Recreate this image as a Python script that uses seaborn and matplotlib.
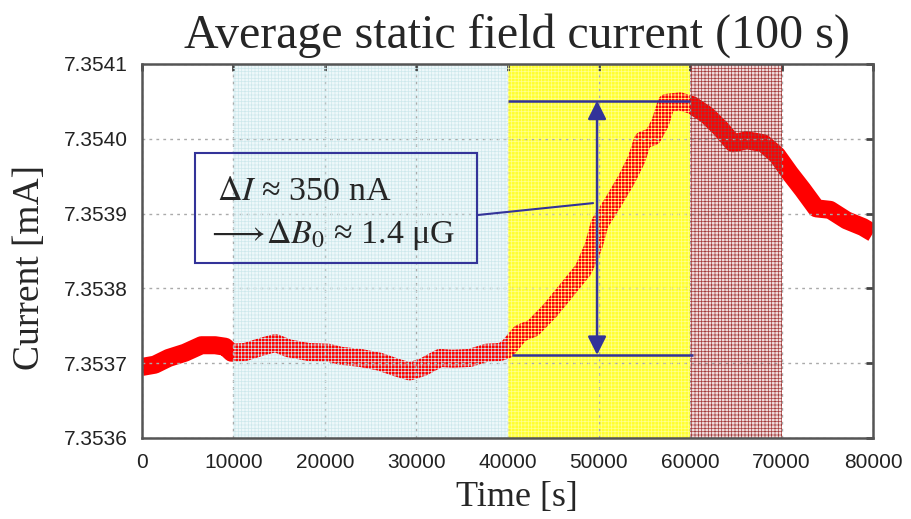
import matplotlib
matplotlib.use("Agg")
import matplotlib.pyplot as plt
import matplotlib.patches as mpatches
from matplotlib.ticker import FormatStrFormatter
import seaborn as sns
import pandas as pd

# Data (time in s, current in mA)
time_s = [0, 1400, 2900, 4700, 6500, 8000, 9100, 9800, 11300, 13100, 14600,
          16000, 18200, 20400, 21700, 23900, 26000, 27900, 29300, 30800,
          32600, 34000, 35900, 37700, 39200, 39900, 40300, 41400, 42800,
          44700, 46500, 48300, 49400, 50100, 51500, 53000, 54100, 54800,
          55900, 56700, 57400, 58900, 60200, 61800, 63300, 64700, 66200,
          68000, 69500, 70900, 72300, 73800, 75300, 77100, 78900, 80000]
current_ma = [7.353695, 7.353698, 7.353707, 7.353714, 7.353724, 7.353724,
              7.353722, 7.353714, 7.353715, 7.353722, 7.353727, 7.353720,
              7.353715, 7.353714, 7.353710, 7.353707, 7.353702, 7.353694,
              7.353689, 7.353695, 7.353707, 7.353706, 7.353707, 7.353714,
              7.353715, 7.353718, 7.353724, 7.353740, 7.353747, 7.353771,
              7.353798, 7.353825, 7.353856, 7.353887, 7.353914, 7.353945,
              7.353972, 7.353998, 7.354003, 7.354021, 7.354048, 7.354050,
              7.354045, 7.354032, 7.354014, 7.353994, 7.353998, 7.353994,
              7.353978, 7.353954, 7.353932, 7.353907, 7.353905, 7.353891,
              7.353882, 7.353874]

# shaded periods: (start, end, base colour, texture colour)
periods = [(10000, 40000, "#eef8fa", "#cde8ec"),
           (40000, 60000, "#ffff30", "#ffff90"),
           (60000, 70000, "#f0dcdc", "#a43c3c")]

x_ticks = [0, 10000, 20000, 30000, 40000, 50000, 60000, 70000, 80000]
y_ticks = [7.3536, 7.3537, 7.3538, 7.3539, 7.3540, 7.3541]

# Delta I annotation
delta_low, delta_high = 7.353711, 7.354051
arrow_t = 49800
box_t = (5800, 36660)
box_i = (7.353834, 7.353981)

df = pd.DataFrame({"time": time_s, "current": current_ma})

sns.set_style("white")
plt.rcParams["font.family"] = ["Liberation Sans", "DejaVu Sans"]
plt.rcParams["mathtext.fontset"] = "stix"
plt.rcParams["hatch.linewidth"] = 0.5

serif = ["Liberation Serif", "DejaVu Serif"]
blue = "#333399"

fig = plt.figure(figsize=(9.11, 5.19), dpi=100)
ax = fig.add_axes([0.1559, 0.1561, 0.8024, 0.7206])

for start, end, base, tex in periods:
    ax.axvspan(start, end, facecolor=base, lw=0, zorder=0)
    ax.axvspan(start, end, facecolor="none", edgecolor=tex, hatch="+++++",
               lw=0, zorder=3)

sns.lineplot(data=df, x="time", y="current", ax=ax, color="#ff0000",
             linewidth=13, zorder=2, solid_joinstyle="round",
             solid_capstyle="butt")

ax.set_xlim(0, 80000)
ax.set_ylim(7.3536, 7.3541)
ax.set_xticks(x_ticks)
ax.set_yticks(y_ticks)
ax.xaxis.set_major_formatter(FormatStrFormatter("%d"))
ax.yaxis.set_major_formatter(FormatStrFormatter("%.4f"))
ax.grid(True, linestyle=(0, (2, 3)), color="#aaaaaa", linewidth=1)
ax.set_axisbelow(False)
for line in ax.get_xgridlines() + ax.get_ygridlines():
    line.set_zorder(1)

ax.tick_params(axis="both", direction="in", length=5, width=2, color="#444444",
               labelsize=15, labelcolor="#222222", top=True, right=True)
ax.tick_params(axis="y", pad=10.5)
ax.tick_params(axis="x", pad=11)
for s in ax.spines.values():
    s.set_color("#555555")
    s.set_linewidth(1.8)
    s.set_zorder(5)

ax.set_xlabel("")
ax.set_ylabel("")
fig.text(0.5675, 0.932, "Average static field current (100 s)", family=serif,
         fontsize=34.5, ha="center", va="center")
fig.text(0.033, 0.484, "Current [mA]", family=serif, fontsize=27,
         rotation=90, ha="center", va="center")
fig.text(0.5675, 0.042, "Time [s]", family=serif, fontsize=26,
         ha="center", va="center")

# annotation
ax.hlines(delta_high, 40000, 60000, color=blue, lw=1.8, zorder=6)
ax.hlines(delta_low, 40500, 60300, color=blue, lw=1.8, zorder=6)
ax.annotate("", xy=(arrow_t, delta_high), xytext=(arrow_t, delta_low),
            arrowprops=dict(arrowstyle="<|-|>", color=blue, lw=1.8,
                            mutation_scale=28, shrinkA=0, shrinkB=0),
            zorder=6)
ax.plot([box_t[1], 49360], [7.353898, 7.353914], color=blue, lw=1.5, zorder=6)
ax.add_patch(mpatches.Rectangle((box_t[0], box_i[0]), box_t[1] - box_t[0],
                                box_i[1] - box_i[0], fill=False,
                                edgecolor=blue, lw=1.5, zorder=6))
fig.text(217 / 911, 1 - 200 / 519, r"$\Delta I$ ≈ 350 nA", family=serif,
         fontsize=24.5, ha="left", va="baseline")
fig.text(207 / 911, 1 - 243 / 519, r"$\longrightarrow\!\Delta B_0$ ≈ 1.4 μG",
         family=serif, fontsize=24.5, ha="left", va="baseline")

fig.savefig("out.png", dpi=100)
